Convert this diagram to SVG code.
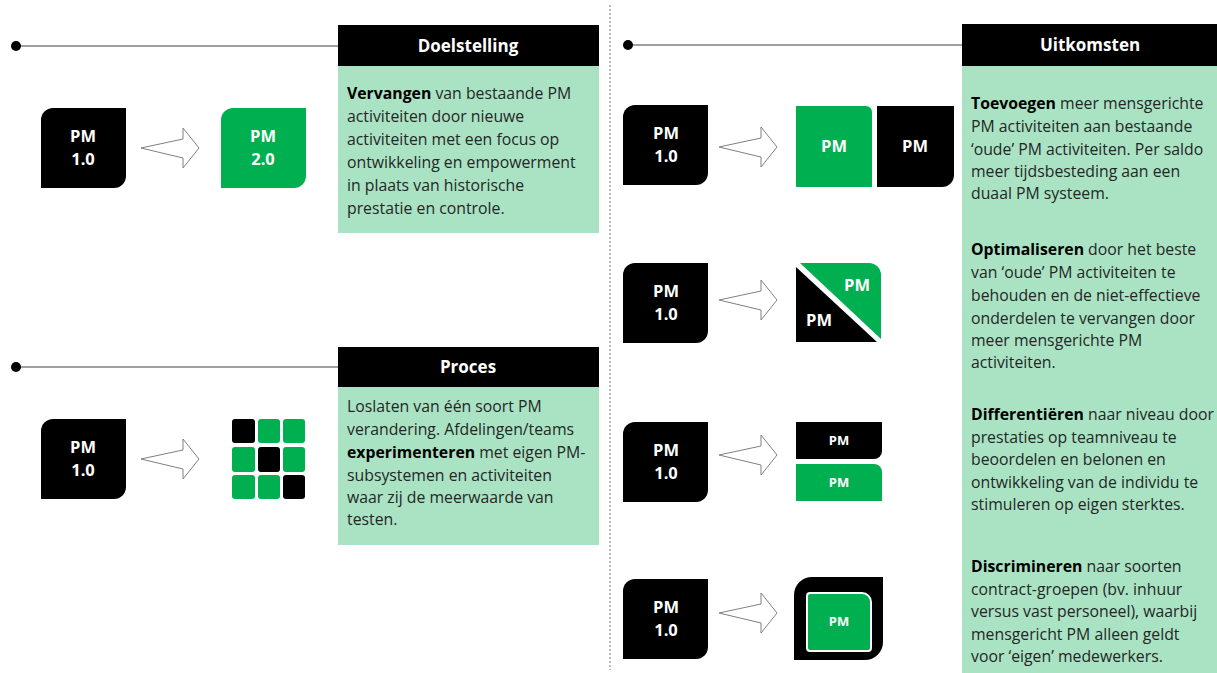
<svg xmlns="http://www.w3.org/2000/svg" width="1217" height="673" viewBox="0 0 1217 673">
<style>
.hdr{fill:#000}
.panel{fill:#a9e3c4}
.htxt{font-family:"Open Sans","Liberation Sans",Arial,sans-serif;font-weight:bold;font-size:17px;fill:#fff;text-anchor:middle}
.body{font-family:"Open Sans","Liberation Sans",Arial,sans-serif;font-size:15.8px;fill:#262626}
.b{font-weight:bold;fill:#000}
.pm{font-family:"Open Sans","Liberation Sans",Arial,sans-serif;font-weight:bold;font-size:16.5px;fill:#fff;text-anchor:middle}
.pms{font-family:"Open Sans","Liberation Sans",Arial,sans-serif;font-weight:bold;font-size:13px;fill:#fff;text-anchor:middle}
.tl{stroke:#7f7f7f;stroke-width:1.5;fill:none}
.blk{fill:#000}
.grn{fill:#00b050}
.arr{fill:#fff;stroke:#808080;stroke-width:1}
</style>
<defs>
<path id="pmbox" d="M0,12 A12,12 0 0 1 12,0 H85 V68 A12,12 0 0 1 73,80 H0 Z"/>
<path id="arrow" d="M0,0 L42,-9 L42,-20 L58,0 L42,20 L42,10 Z"/>
</defs>

<g id="connectors">
<line class="tl" x1="16" y1="46" x2="338" y2="46"/>
<circle cx="16" cy="46" r="5" fill="#000"/>
<line class="tl" x1="16" y1="367" x2="338" y2="367"/>
<circle cx="16" cy="367" r="5" fill="#000"/>
<line class="tl" x1="628" y1="45" x2="962" y2="45"/>
<circle cx="628" cy="45" r="5" fill="#000"/>
<line x1="610" y1="5" x2="610" y2="670" stroke="#8c8c8c" stroke-width="1.2" stroke-dasharray="2,2"/>
</g>

<g id="doelstelling">
<rect class="hdr" x="338" y="25" width="261" height="41"/>
<text class="htxt" x="468" y="52">Doelstelling</text>
<rect class="panel" x="338" y="66" width="261" height="167"/>
<text class="body">
<tspan x="347" y="99"><tspan class="b">Vervangen</tspan> van bestaande PM</tspan>
<tspan x="347" y="122">activiteiten  door nieuwe</tspan>
<tspan x="347" y="145">activiteiten  met een focus op</tspan>
<tspan x="347" y="168">ontwikkeling en empowerment</tspan>
<tspan x="347" y="191">in plaats van historische</tspan>
<tspan x="347" y="214">prestatie en controle.</tspan>
</text>
</g>

<g id="doel-pm1">
<use href="#pmbox" x="41" y="108" class="blk"/>
<text class="pm" x="83" y="142">PM</text>
<text class="pm" x="83" y="165">1.0</text>
</g>
<g id="doel-arrow"><use href="#arrow" x="141" y="148" class="arr"/></g>
<g id="doel-pm2">
<use href="#pmbox" x="221" y="108" class="grn"/>
<text class="pm" x="263" y="142">PM</text>
<text class="pm" x="263" y="165">2.0</text>
</g>

<g id="proces">
<rect class="hdr" x="338" y="347" width="261" height="40"/>
<text class="htxt" x="468" y="373">Proces</text>
<rect class="panel" x="338" y="387" width="261" height="158"/>
<text class="body">
<tspan x="347" y="412">Loslaten van één soort PM</tspan>
<tspan x="347" y="435">verandering. Afdelingen/teams</tspan>
<tspan x="347" y="458"><tspan class="b">experimenteren</tspan> met eigen PM-</tspan>
<tspan x="347" y="481">subsystemen en activiteiten</tspan>
<tspan x="347" y="503">waar zij de meerwaarde van</tspan>
<tspan x="347" y="525">testen.</tspan>
</text>
</g>

<g id="proces-pm1">
<use href="#pmbox" x="41" y="419" class="blk"/>
<text class="pm" x="83" y="453">PM</text>
<text class="pm" x="83" y="476">1.0</text>
</g>
<g id="proces-arrow"><use href="#arrow" x="141" y="459" class="arr"/></g>
<g id="proces-grid">
<rect class="blk" x="232" y="419" width="23" height="24" rx="3"/>
<rect class="grn" x="258" y="419" width="22" height="24" rx="3"/>
<rect class="grn" x="283" y="419" width="22" height="24" rx="3"/>
<rect class="grn" x="232" y="447" width="23" height="25" rx="3"/>
<rect class="blk" x="258" y="447" width="22" height="25" rx="3"/>
<rect class="grn" x="283" y="447" width="22" height="25" rx="3"/>
<rect class="grn" x="232" y="475" width="23" height="24" rx="3"/>
<rect class="grn" x="258" y="475" width="22" height="24" rx="3"/>
<rect class="blk" x="283" y="475" width="22" height="24" rx="3"/>
</g>

<g id="uitkomsten">
<rect class="hdr" x="962" y="24" width="255" height="42"/>
<text class="htxt" x="1090" y="51">Uitkomsten</text>
<rect class="panel" x="962" y="66" width="255" height="607"/>
<text class="body">
<tspan x="971" y="109"><tspan class="b">Toevoegen</tspan> meer mensgerichte</tspan>
<tspan x="971" y="132">PM activiteiten aan bestaande</tspan>
<tspan x="971" y="155">‘oude’ PM activiteiten.  Per saldo</tspan>
<tspan x="971" y="177">meer tijdsbesteding aan een</tspan>
<tspan x="971" y="199">duaal PM systeem.</tspan>
</text>
<text class="body">
<tspan x="971" y="255"><tspan class="b">Optimaliseren</tspan> door het beste</tspan>
<tspan x="971" y="278">van ‘oude’ PM activiteiten te</tspan>
<tspan x="971" y="301">behouden en de niet-effectieve</tspan>
<tspan x="971" y="324">onderdelen te vervangen door</tspan>
<tspan x="971" y="346">meer mensgerichte PM</tspan>
<tspan x="971" y="368">activiteiten.</tspan>
</text>
<text class="body">
<tspan x="971" y="420"><tspan class="b">Differentiëren</tspan> naar niveau door</tspan>
<tspan x="971" y="443">prestaties op teamniveau te</tspan>
<tspan x="971" y="465">beoordelen en belonen en</tspan>
<tspan x="971" y="488">ontwikkeling van de individu te</tspan>
<tspan x="971" y="510">stimuleren op eigen sterktes.</tspan>
</text>
<text class="body">
<tspan x="971" y="572"><tspan class="b">Discrimineren</tspan> naar soorten</tspan>
<tspan x="971" y="595">contract-groepen (bv. inhuur</tspan>
<tspan x="971" y="617">versus vast personeel), waarbij</tspan>
<tspan x="971" y="640">mensgericht PM alleen geldt</tspan>
<tspan x="971" y="662">voor ‘eigen’ medewerkers.</tspan>
</text>
</g>

<g id="row1">
<use href="#pmbox" x="623" y="105" class="blk"/>
<text class="pm" x="666" y="139">PM</text>
<text class="pm" x="666" y="162">1.0</text>
<use href="#arrow" x="719" y="147" class="arr"/>
<path class="grn" d="M796,106 H866 A6,6 0 0 1 872,112 V187 H796 Z"/>
<text class="pm" x="834" y="152">PM</text>
<path class="blk" d="M877,106 H954 V175 A12,12 0 0 1 942,187 H877 Z"/>
<text class="pm" x="915" y="152">PM</text>
</g>

<g id="row2">
<use href="#pmbox" x="623" y="263" class="blk"/>
<text class="pm" x="666" y="297">PM</text>
<text class="pm" x="666" y="320">1.0</text>
<use href="#arrow" x="719" y="300" class="arr"/>
<path class="grn" d="M800,263 H869 A12,12 0 0 1 881,275 V339 Z"/>
<path class="blk" d="M796,267 L877,342 H796 Z"/>
<text class="pm" x="857" y="291">PM</text>
<text class="pm" x="819" y="326">PM</text>
</g>

<g id="row3">
<use href="#pmbox" x="623" y="422" class="blk"/>
<text class="pm" x="666" y="456">PM</text>
<text class="pm" x="666" y="479">1.0</text>
<use href="#arrow" x="719" y="455" class="arr"/>
<path class="blk" d="M796,422 H882 V451 A8,8 0 0 1 874,459 H796 Z"/>
<text class="pms" x="839" y="445">PM</text>
<path class="grn" d="M796,464 H874 A8,8 0 0 1 882,472 V501 H796 Z"/>
<text class="pms" x="839" y="487">PM</text>
</g>

<g id="row4">
<use href="#pmbox" x="623" y="579" class="blk"/>
<text class="pm" x="666" y="613">PM</text>
<text class="pm" x="666" y="636">1.0</text>
<use href="#arrow" x="719" y="613" class="arr"/>
<path class="blk" d="M794,595 A18,18 0 0 1 812,577 H883 V642 A18,18 0 0 1 865,660 H794 Z"/>
<path class="grn" d="M810,593 H862 A9,9 0 0 1 871,602 V648 A3,3 0 0 1 868,651 H810 A3,3 0 0 1 807,648 V596 A3,3 0 0 1 810,593 Z" stroke="#fff" stroke-width="2"/>
<text class="pms" x="839" y="626">PM</text>
</g>
</svg>
